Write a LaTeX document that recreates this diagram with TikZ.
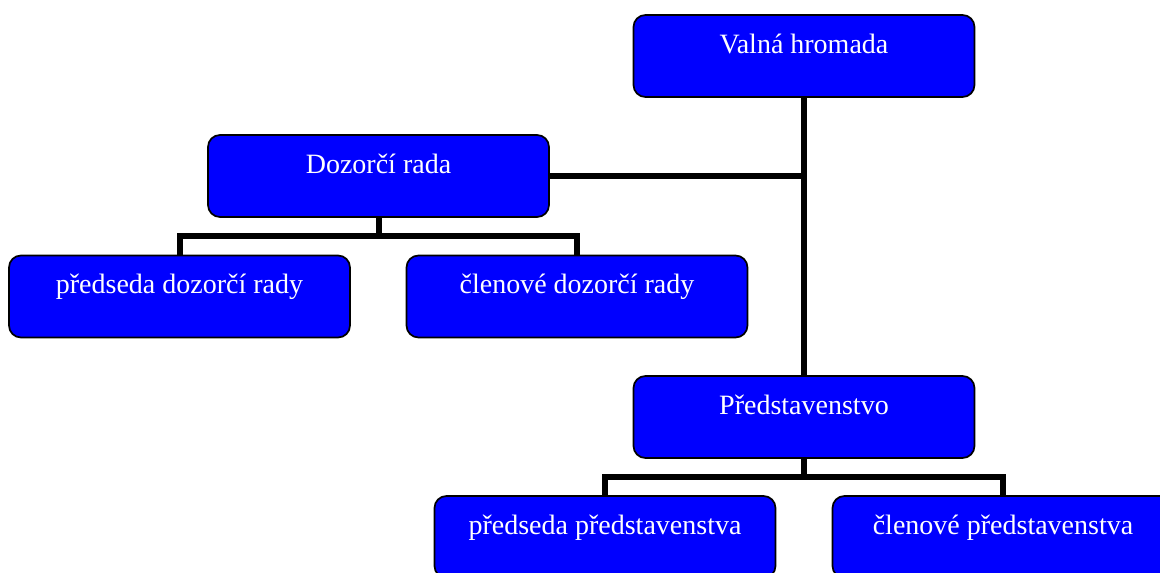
\documentclass[tikz,border=0pt]{standalone}
\usepackage{fontspec}
\setmainfont{Liberation Serif}
\begin{document}
\begin{tikzpicture}[x=0.75pt,y=-0.75pt,
  orgbox/.style={draw=black, line width=1.3pt, fill={rgb,255:red,0;green,0;blue,255},
    rounded corners=9pt, text=white, font=\fontsize{21}{25}\selectfont,
    inner sep=0pt, minimum width=255.75pt, text height=28.5pt, text depth=33pt},
  link/.style={draw=black, line width=4.5pt}]
  \useasboundingbox (0,0) rectangle (1160,572);
  \clip (0,0) rectangle (1160,572);

  % boxes
  \node[orgbox] (vh) at (804,56) {Valná hromada};
  \node[orgbox] (dr) at (378.5,176) {Dozorčí rada};
  \node[orgbox] (pdr) at (179.5,296.5) {předseda dozorčí rady};
  \node[orgbox] (cdr) at (577,296.5) {členové dozorčí rady};
  \node[orgbox] (pr) at (804,417) {Představenstvo};
  \node[orgbox] (pp) at (605,537) {předseda představenstva};
  \node[orgbox] (cp) at (1003,537) {členové představenstva};

  % junction points
  \coordinate (j1) at (vh.south |- dr.east);
  \coordinate (j2) at (378.5,236);
  \coordinate (j3) at (804,477);

  % connectors
  \draw[link] (vh.south) -- (pr.north);
  \draw[link] (dr.east) -- (j1);
  \draw[link] (dr.south) -- (j2);
  \draw[link] (pdr.north) |- (j2) -| (cdr.north);
  \draw[link] (pr.south) -- (j3);
  \draw[link] (pp.north) |- (j3) -| (cp.north);
\end{tikzpicture}
\end{document}
